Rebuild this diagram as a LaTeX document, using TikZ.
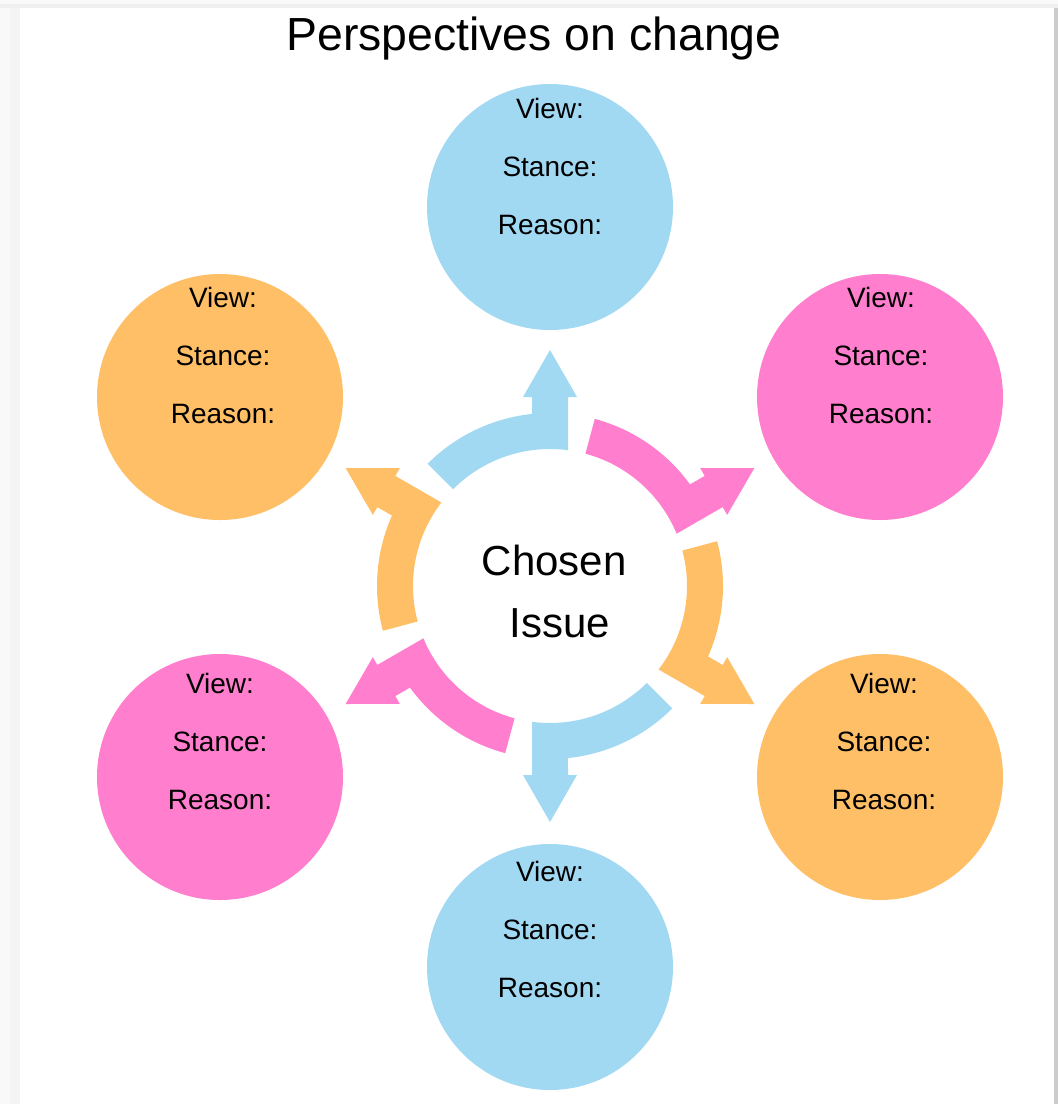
\documentclass[tikz,border=0pt]{standalone}
\usepackage{fontspec}
\setmainfont{Liberation Sans}
\definecolor{cblue}{RGB}{161,217,243}
\definecolor{cpink}{RGB}{255,126,206}
\definecolor{corange}{RGB}{255,191,102}
\begin{document}
\begin{tikzpicture}[x=1pt,y=1pt,
  bubble/.style={circle,inner sep=0pt,minimum size=246pt},
  btext/.style={align=center,font=\fontsize{28}{58}\selectfont},
  ringarrow/.pic={
    \fill (45:173) arc[start angle=45,end angle=5.97,radius=173]
      -- (189,18) -- (189,27) -- (236,0) -- (189,-27) -- (189,-18)
      -- (135.8,-18) arc[start angle=-7.55,end angle=45,radius=137] -- cycle;
  }]
\useasboundingbox (0,0) rectangle (1058,-1104);
% page background and shadow
\fill[gray!5] (0,0) rectangle (1058,-1104);
\fill[gray!9] (10,-8) rectangle (20,-1104);
\fill[gray!12] (0,-4) rectangle (1058,-8);
\fill[gray!40] (1054,-8) rectangle (1058,-1104);
\fill[white] (20,-8) rectangle (1054,-1104);
% title
\node[anchor=base,font=\fontsize{46.4}{55}\selectfont] (title) at (534,-50) {Perspectives on change};
% ring of arrows
\coordinate (ctr) at (550,-586);
\pic[cblue] at (ctr) [rotate=90] {ringarrow};
\pic[cpink] at (ctr) [rotate=30] {ringarrow};
\pic[corange] at (ctr) [rotate=-30] {ringarrow};
\pic[cblue] at (ctr) [rotate=-90] {ringarrow};
\pic[cpink] at (ctr) [rotate=-150] {ringarrow};
\pic[corange] at (ctr) [rotate=150] {ringarrow};
\node[align=center,font=\fontsize{42}{62}\selectfont] (issue) at (560,-591) {Chosen\hspace*{0.28em}\\Issue};
% bubbles
\node[bubble,fill=cblue] (b1) at (550,-207) {};
\node[bubble,fill=cpink] (b2) at (880,-397) {};
\node[bubble,fill=corange] (b3) at (880,-777) {};
\node[bubble,fill=cblue] (b4) at (550,-967) {};
\node[bubble,fill=cpink] (b5) at (220,-777) {};
\node[bubble,fill=corange] (b6) at (220,-397) {};
\node[btext] (t1) at (550,-166) {View:\\Stance:\\Reason:};
\node[btext] (t2) at (881,-355) {View:\\Stance:\\Reason:};
\node[btext] (t3) at (884,-741) {View:\\Stance:\\Reason:};
\node[btext] (t4) at (550,-929) {View:\\Stance:\\Reason:};
\node[btext] (t5) at (220,-741) {View:\\Stance:\\Reason:};
\node[btext] (t6) at (223,-355) {View:\\Stance:\\Reason:};
\end{tikzpicture}
\end{document}
